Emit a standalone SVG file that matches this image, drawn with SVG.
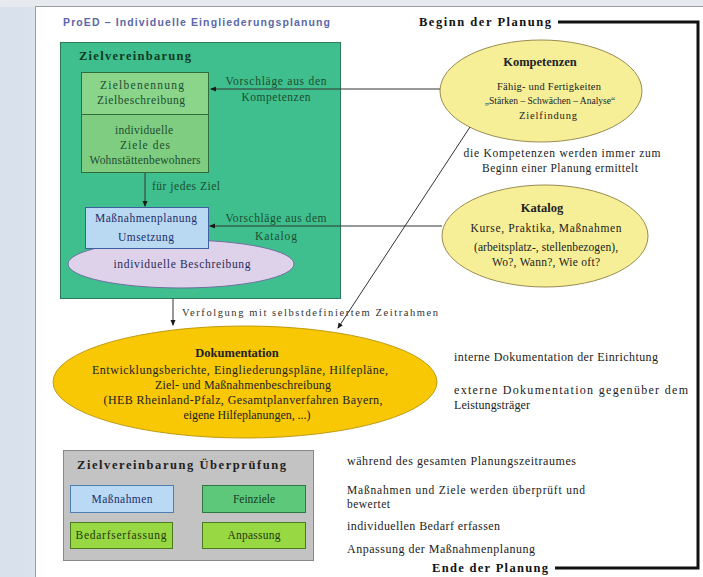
<svg xmlns="http://www.w3.org/2000/svg" width="703" height="577" viewBox="0 0 703 577">
<defs>
<linearGradient id="bg" x1="0" y1="0" x2="1" y2="0">
<stop offset="0" stop-color="#d9e2ec"/>
<stop offset="1" stop-color="#eef2f6"/>
</linearGradient>
<marker id="ah" viewBox="0 0 6 6" refX="5" refY="3" markerWidth="6" markerHeight="6" orient="auto">
<path d="M0,0.5 L6,3 L0,5.5 Z" fill="#1a1a1a"/>
</marker>
<style>
text{font-family:"Liberation Serif","Times New Roman",serif;font-size:11.5px;fill:#222}
.c{text-anchor:middle}
.s{font-size:12px}
.t{font-size:12.5px;font-weight:bold}
.g{fill:#1b4d30}
.ln{stroke:#333;stroke-width:1;fill:none}
.br{stroke:#111;stroke-width:3;fill:none}
</style>
</defs>
<rect width="703" height="577" fill="url(#bg)"/>
<rect x="0" y="0" width="703" height="7" fill="#e6eaee"/>
<rect x="35.5" y="6.5" width="680" height="580" fill="#ffffff" stroke="#9a9a9a"/>
<text x="63" y="26" textLength="267" style="font-family:'Liberation Sans',Arial,sans-serif;font-size:10.5px;font-weight:bold;fill:#5a68a8">ProED – Individuelle Eingliederungsplanung</text>

<g id="bracket">
<text x="419" y="26" class="t" textLength="132" style="fill:#111">Beginn der Planung</text>
<text x="432" y="572" class="t" textLength="116" style="fill:#111">Ende der Planung</text>
<path class="br" d="M558,22 H698 V568 H555"/>
</g>

<g id="zielvereinbarung">
<rect x="60.5" y="42.5" width="280" height="256" fill="#3fbf8d" stroke="#2b7a5a"/>
<text x="79" y="60" class="t" textLength="112" style="fill:#0f3a22">Zielvereinbarung</text>
</g>

<g id="zielbenennung">
<rect x="81.5" y="72.5" width="127" height="42" fill="#8ad58a" stroke="#2f6e3c"/>
<rect x="81.5" y="114.5" width="127" height="58" fill="#7fcd80" stroke="#2f6e3c"/>
<text x="142" y="89" class="c g" textLength="84">Zielbenennung</text>
<text x="141" y="104" class="c g" textLength="88">Zielbeschreibung</text>
<text x="144" y="134" class="c g" textLength="58">individuelle</text>
<text x="145" y="149" class="c g" textLength="50">Ziele des</text>
<text x="145" y="164" class="c g" textLength="111">Wohnstättenbewohners</text>
</g>

<g id="massnahmenplanung">
<ellipse cx="181" cy="264" rx="113" ry="24" fill="#ddd2ea" stroke="#6f6fa0"/>
<text x="182" y="268" class="c" style="fill:#2a2a5a" textLength="137">individuelle Beschreibung</text>
<rect x="85.5" y="207.5" width="123" height="41" fill="#b9d9f2" stroke="#3f60a0"/>
<text x="146" y="222" class="c" style="fill:#1d2d6a" textLength="102">Maßnahmenplanung</text>
<text x="146" y="241" class="c" style="fill:#1d2d6a" textLength="56">Umsetzung</text>
</g>

<g id="kompetenzen">
<ellipse cx="541" cy="91" rx="101" ry="51" fill="#f6ef98" stroke="#9a8c50"/>
<text x="540" y="66" class="c t">Kompetenzen</text>
<text x="549" y="90" class="c" style="font-size:10.5px" textLength="104">Fähig- und Fertigkeiten</text>
<text x="550" y="104" class="c" style="font-size:9.5px">„Stärken – Schwächen – Analyse“</text>
<text x="548" y="119" class="c" style="font-size:10.5px" textLength="58">Zielfindung</text>
</g>
<text x="562" y="157" class="c" textLength="197">die Kompetenzen werden immer zum</text>
<text x="560" y="172" class="c" textLength="156">Beginn einer Planung ermittelt</text>

<g id="katalog">
<ellipse cx="545" cy="236" rx="103" ry="51" fill="#f6ef98" stroke="#9a8c50"/>
<text x="542" y="212" class="c t">Katalog</text>
<text x="546" y="232" class="c" textLength="151">Kurse, Praktika, Maßnahmen</text>
<text x="546" y="251" class="c" textLength="144">(arbeitsplatz-, stellenbezogen),</text>
<text x="546" y="266" class="c" textLength="108">Wo?, Wann?, Wie oft?</text>
</g>

<g id="dokumentation">
<ellipse cx="245" cy="382" rx="192" ry="56" fill="#f8c805" stroke="#c09a10"/>
<text x="237" y="357" class="c t">Dokumentation</text>
<text x="240" y="374" class="c s" textLength="296">Entwicklungsberichte, Eingliederungspläne, Hilfepläne,</text>
<text x="243" y="389" class="c s" textLength="176">Ziel- und Maßnahmenbeschreibung</text>
<text x="243" y="404" class="c s" textLength="279">(HEB Rheinland-Pfalz, Gesamtplanverfahren Bayern,</text>
<text x="247" y="419" class="c s" textLength="127">eigene Hilfeplanungen, ...)</text>
</g>
<text x="454" y="361" class="s" textLength="204">interne Dokumentation der Einrichtung</text>
<text x="454" y="394" class="s" textLength="234">externe Dokumentation gegenüber dem</text>
<text x="454" y="409" class="s" textLength="76">Leistungsträger</text>

<g id="ueberpruefung">
<rect x="63.5" y="450.5" width="250" height="110" fill="#c3c3c3" stroke="#888"/>
<text x="77" y="469" class="t" textLength="209">Zielvereinbarung Überprüfung</text>
</g>
<g id="massnahmen">
<rect x="70.5" y="485.5" width="103" height="27" fill="#b9d9f5" stroke="#4f7fb0"/>
<text x="122" y="503" class="c" style="fill:#1d2d6a" textLength="61">Maßnahmen</text>
</g>
<g id="feinziele">
<rect x="202.5" y="485.5" width="103" height="27" fill="#5ec87a" stroke="#2c7a42"/>
<text x="254" y="503" class="c" style="fill:#0f3a1e">Feinziele</text>
</g>
<g id="bedarfserfassung">
<rect x="70.5" y="522.5" width="102" height="26" fill="#98d843" stroke="#4a7a22"/>
<text x="121" y="539" class="c" style="fill:#1f3a0a" textLength="91">Bedarfserfassung</text>
</g>
<g id="anpassung">
<rect x="202.5" y="522.5" width="103" height="26" fill="#98d843" stroke="#4a7a22"/>
<text x="254" y="539" class="c" style="fill:#1f3a0a" textLength="53">Anpassung</text>
</g>
<text x="347" y="465" class="s" textLength="229">während des gesamten Planungszeitraumes</text>
<text x="347" y="494" textLength="238">Maßnahmen und Ziele werden überprüft und</text>
<text x="347" y="508" textLength="43">bewertet</text>
<text x="347" y="530" class="s" textLength="153">individuellen Bedarf erfassen</text>
<text x="347" y="553" class="s" textLength="188">Anpassung der Maßnahmenplanung</text>

<g id="connectors">
<line class="ln" x1="440" y1="89" x2="211" y2="89" marker-end="url(#ah)"/>
<line class="ln" x1="442" y1="226" x2="210" y2="226" marker-end="url(#ah)"/>
<line class="ln" x1="145" y1="173" x2="145" y2="206" marker-end="url(#ah)"/>
<line class="ln" x1="173" y1="299" x2="173" y2="325" marker-end="url(#ah)"/>
<line class="ln" x1="470" y1="127" x2="338" y2="328" marker-end="url(#ah)"/>
<text x="276" y="85" class="c g" textLength="101">Vorschläge aus den</text>
<text x="276" y="101" class="c g" textLength="69">Kompetenzen</text>
<text x="186" y="190" class="c g" textLength="68">für jedes Ziel</text>
<text x="276" y="222" class="c g" textLength="101">Vorschläge aus dem</text>
<text x="276" y="240" class="c g" textLength="42">Katalog</text>
<text x="182" y="316" style="font-size:10.5px;fill:#333" textLength="256">Verfolgung mit selbstdefiniertem Zeitrahmen</text>
</g>
</svg>
